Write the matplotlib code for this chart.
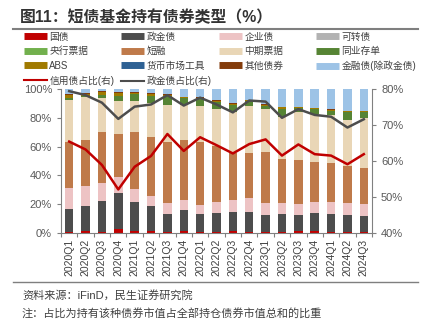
import matplotlib
matplotlib.use("Agg")
import matplotlib.pyplot as plt
from matplotlib.lines import Line2D
import numpy as np

plt.rcParams['font.family'] = ['Liberation Sans', 'Noto Sans CJK SC', 'DejaVu Sans']

quarters = ["2020Q1", "2020Q2", "2020Q3", "2020Q4", "2021Q1", "2021Q2", "2021Q3", "2021Q4",
            "2022Q1", "2022Q2", "2022Q3", "2022Q4", "2023Q1", "2023Q2", "2023Q3", "2023Q4",
            "2024Q1", "2024Q2", "2024Q3"]

guozhai = [0.5, 1.3, 0.5, 3.0, 1.5, 1.5, 0.5, 1.5, 0.5, 1.0, 1.5, 1.0, 0.5, 0.8, 1.2, 1.2, 1.0, 1.0, 0.8]
zhengjinzhai = [16.0, 17.7, 21.7, 24.5, 20.3, 17.0, 12.7, 14.5, 12.7, 13.1, 13.1, 13.8, 12.0, 12.2, 11.3, 12.5, 12.2, 11.5, 11.0]
qiyezhai = [14.5, 13.9, 12.8, 11.4, 8.5, 7.5, 7.4, 6.9, 6.2, 7.4, 8.3, 9.3, 8.6, 7.6, 7.6, 7.8, 8.1, 8.1, 8.1]
kezhuanzhai = [0] * 19
yanghang = [0] * 19
duanrong = [32.4, 31.7, 35.1, 29.9, 39.8, 40.9, 42.8, 41.7, 44.0, 38.9, 32.9, 31.7, 35.1, 30.6, 30.6, 27.6, 27.1, 25.9, 25.5]
zhongpiao = [28.8, 30.0, 23.6, 23.0, 21.6, 23.1, 25.5, 24.3, 25.0, 25.7, 28.5, 32.6, 29.7, 29.6, 33.6, 33.3, 33.5, 32.0, 34.7]
tongye = [1.4, 0.5, 2.1, 3.5, 4.9, 5.3, 6.2, 4.6, 4.6, 5.1, 4.6, 3.0, 2.3, 5.3, 2.3, 3.5, 2.8, 5.3, 3.7]
abs_ = [2.2, 1.5, 2.0, 2.0, 0.8, 1.2, 0.8, 0.8, 1.0, 0.8, 0.8, 0.8, 0.8, 1.2, 0.8, 0.8, 0.8, 0.6, 0.6]
huobi = [0] * 19
qita = [0.6, 0.4, 0.5, 0.5, 0.4, 0.4, 0.4, 0.4, 0.4, 0.4, 0.4, 0.4, 0.4, 0.4, 0.4, 0.4, 0.4, 0.3, 0.3]
jinrong = [3.6, 3.0, 1.7, 2.2, 2.2, 3.1, 3.7, 5.3, 5.6, 7.6, 9.9, 7.4, 10.6, 12.3, 12.2, 12.9, 14.1, 15.3, 15.3]

xinyong_ratio = [65.4, 63.2, 58.9, 52.1, 58.4, 61.4, 67.5, 62.8, 66.6, 64.4, 62.1, 64.7, 66.0, 61.5, 64.6, 61.9, 61.5, 59.1, 61.9]
zhengjin_ratio = [79.4, 78.3, 76.2, 71.7, 75.1, 75.7, 78.3, 75.4, 77.6, 75.7, 73.5, 76.8, 76.5, 72.0, 74.4, 72.8, 72.3, 69.3, 71.6]

series = [
    ("国债", guozhai, "#C00000"),
    ("政金债", zhengjinzhai, "#4D4D4D"),
    ("企业债", qiyezhai, "#EDC3C4"),
    ("可转债", kezhuanzhai, "#B2B2B2"),
    ("央行票据", yanghang, "#72B04D"),
    ("短融", duanrong, "#BF7A4A"),
    ("中期票据", zhongpiao, "#E9D6B6"),
    ("同业存单", tongye, "#568434"),
    ("ABS", abs_, "#A07A00"),
    ("货币市场工具", huobi, "#2E6194"),
    ("其他债券", qita, "#843C0C"),
    ("金融债(除政金债)", jinrong, "#9DC3E6"),
]

W, H = 425, 327
fig = plt.figure(figsize=(W / 100, H / 100), dpi=100)
ax = fig.add_axes([61 / W, 1 - 233 / H, (372 - 61) / W, (233 - 89) / H])

x = np.arange(len(quarters))
bottom = np.zeros(len(quarters))
for name, vals, col in series:
    v = np.array(vals, dtype=float)
    ax.bar(x, v, width=0.52, bottom=bottom, color=col, linewidth=0, zorder=2)
    bottom += v

ax.set_xlim(-0.5, len(quarters) - 0.5)
ax.set_ylim(0, 100)
ax.set_yticks(np.arange(0, 101, 20))
ax.set_yticklabels([f"{int(t)}%" for t in np.arange(0, 101, 20)])
ax.set_xticks(x)
ax.set_xticklabels(quarters, rotation=90)
ax.set_xticks(np.arange(-0.5, len(quarters), 1), minor=True)
ax.tick_params(axis='x', which='major', length=0, pad=4, labelsize=7.5, labelcolor='#404040')
ax.tick_params(axis='x', which='minor', length=3, color='#808080', width=0.8)
ax.tick_params(axis='y', length=3, color='#808080', labelsize=8, labelcolor='#595959', width=0.8)
for s in ['top', 'right']:
    ax.spines[s].set_visible(False)
for s in ['left', 'bottom']:
    ax.spines[s].set_color('#808080')
    ax.spines[s].set_linewidth(0.8)

ax2 = ax.twinx()
ax2.plot(x, xinyong_ratio, color="#C00000", lw=1.8, zorder=3)
ax2.plot(x, zhengjin_ratio, color="#4D4D4D", lw=1.8, zorder=3)
ax2.set_ylim(40, 80)
ax2.set_yticks(np.arange(40, 81, 10))
ax2.set_yticklabels([f"{int(t)}%" for t in np.arange(40, 81, 10)])
ax2.tick_params(axis='y', length=3, color='#808080', labelsize=8, labelcolor='#595959', width=0.8)
for s in ['top', 'left', 'bottom']:
    ax2.spines[s].set_visible(False)
ax2.spines['right'].set_color('#808080')
ax2.spines['right'].set_linewidth(0.8)

# Legend: four columns
handles = {}
for name, vals, col in series:
    handles[name] = Line2D([], [], color=col, lw=5, solid_capstyle='butt')
handles["信用债占比(右)"] = Line2D([], [], color="#C00000", lw=1.5)
handles["政金债占比(右)"] = Line2D([], [], color="#4D4D4D", lw=1.5)
cols = [
    ["国债", "央行票据", "ABS", "信用债占比(右)"],
    ["政金债", "短融", "货币市场工具", "政金债占比(右)"],
    ["企业债", "中期票据", "其他债券"],
    ["可转债", "同业存单", "金融债(除政金债)"],
]
col_x = [24, 121, 219, 316]
for cx, names in zip(col_x, cols):
    fig.legend([handles[n] for n in names], names, loc='upper left',
               bbox_to_anchor=(cx / W, 1 - 31.5 / H), frameon=False, fontsize=7,
               handlelength=2.4, handletextpad=0.2, labelspacing=0.48,
               borderpad=0, borderaxespad=0, labelcolor='#404040')

# Title and rules
fig.text(20 / W, 1 - 17 / H, "图11：短债基金持有债券类型（%）", fontsize=11.4, fontweight='bold',
         color='#333333', va='center', ha='left')
fig.add_artist(Line2D([13 / W, 418 / W], [1 - 29 / H, 1 - 29 / H], color='#7F7F7F', lw=1.5,
                      transform=fig.transFigure))
fig.add_artist(Line2D([13 / W, 418 / W], [1 - 281.5 / H, 1 - 281.5 / H], color='#7F7F7F', lw=1.0,
                      transform=fig.transFigure))
fig.text(22 / W, 1 - 295 / H, "资料来源：iFinD，民生证券研究院", fontsize=8, color='#404040',
         va='center', ha='left')
fig.text(22 / W, 1 - 314 / H, "注：占比为持有该种债券市值占全部持仓债券市值总和的比重", fontsize=8,
         color='#404040', va='center', ha='left')

fig.savefig("out.png", dpi=100)
